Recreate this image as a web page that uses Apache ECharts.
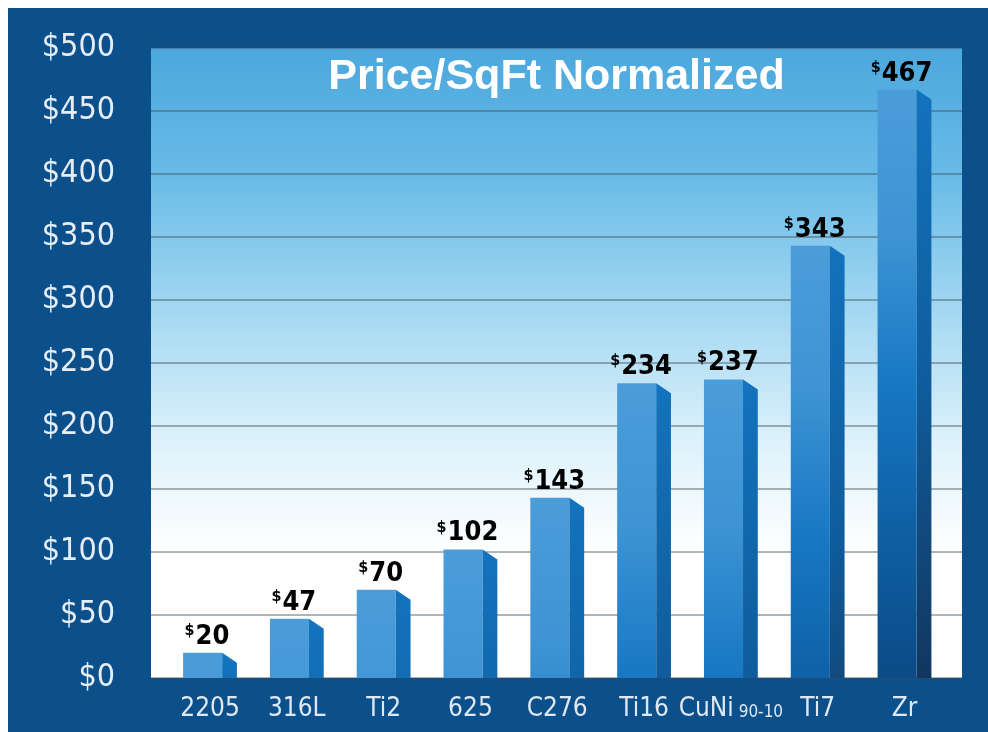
<!DOCTYPE html>
<html>
<head>
<meta charset="utf-8">
<script src="https://cdn.jsdelivr.net/npm/echarts@6/dist/echarts.min.js"></script>
<style>
  html, body { margin: 0; padding: 0; background: #fff; }
  #wrap { position: relative; width: 988px; height: 732px; background: #fff; }
  #chart { position: absolute; left: 8px; top: 8px; width: 980px; height: 724px; }
</style>
</head>
<body>
<div id="wrap"><div id="chart"></div></div>
<script>
// data
const categories = ['2205', '316L', 'Ti2', '625', 'C276', 'Ti16', 'CuNi 90-10', 'Ti7', 'Zr'];
const prices = [20, 47, 70, 102, 143, 234, 237, 343, 467];
const yTicks = [0, 50, 100, 150, 200, 250, 300, 350, 400, 450, 500];

const narrow = "'DejaVu Sans Condensed', 'Liberation Sans Narrow', sans-serif";

const chart = echarts.init(document.getElementById('chart'));

// colours change with distance from the bar top
const frontStops = [
  { offset: 0, color: '#4b9dd9' },
  { offset: 0.25, color: '#3d93d4' },
  { offset: 0.5, color: '#1777c3' },
  { offset: 0.75, color: '#0e5fa3' },
  { offset: 1, color: '#0b4a86' }
];
const sideStops = [
  { offset: 0, color: '#1373bd' },
  { offset: 0.5, color: '#0f5c9c' },
  { offset: 1, color: '#12365e' }
];

function renderBar(params, api) {
  const top = api.coord([api.value(0), api.value(1)]);
  const base = api.coord([api.value(0), 0]);
  const band = api.size([1, 0])[0];
  const fw = band * 0.45;
  const sw = band * 0.17;
  const left = top[0] - (fw + sw) / 2;
  const fr = left + fw;
  const ty = top[1];
  const by = base[1];
  const span = by - api.coord([0, 470])[1];
  const bevel = Math.min(10, by - ty);
  const val = prices[params.dataIndex];
  return {
    type: 'group',
    children: [
      {
        type: 'rect',
        shape: { x: left, y: ty, width: fw, height: by - ty },
        style: { fill: new echarts.graphic.LinearGradient(0, ty, 0, ty + span, frontStops, true) }
      },
      {
        type: 'polygon',
        shape: { points: [[fr, ty], [fr + sw, ty + bevel], [fr + sw, by], [fr, by]] },
        style: { fill: new echarts.graphic.LinearGradient(0, ty, 0, ty + span, sideStops, true) }
      },
      {
        type: 'text',
        x: top[0] - 3,
        y: ty - 2,
        style: {
          text: '{s|$}{v|' + val + '}',
          align: 'center',
          verticalAlign: 'bottom',
          rich: {
            s: { fontFamily: narrow, fontWeight: 'bold', fontSize: 16, color: '#111', verticalAlign: 'top', lineHeight: 28, padding: [0, 1, 11, 0] },
            v: { fontFamily: narrow, fontWeight: 'bold', fontSize: 27, color: '#111', lineHeight: 28 }
          }
        }
      }
    ]
  };
}

const option = {
  backgroundColor: '#0b4f8b',
  animation: false,
  grid: [
    {
      left: 143, right: 26, top: 40, bottom: 54,
      show: true, borderWidth: 0,
      backgroundColor: new echarts.graphic.LinearGradient(0, 0, 0, 1, [
        { offset: 0, color: '#4ba7dd' },
        { offset: 0.2, color: '#68bbe7' },
        { offset: 0.42, color: '#a4d8f2' },
        { offset: 0.62, color: '#dcf1fb' },
        { offset: 0.8, color: '#ffffff' },
        { offset: 1, color: '#ffffff' }
      ])
    },
    { left: 158.6, right: 40.1, top: 40, bottom: 54 }
  ],
  graphic: [{
    type: 'text',
    x: 548.5,
    y: 69,
    style: {
      text: 'Price/SqFt Normalized',
      fill: '#ffffff',
      font: "bold 43px 'Liberation Sans', Arial, sans-serif",
      align: 'center',
      verticalAlign: 'middle'
    }
  }],
  xAxis: [
    { gridIndex: 0, type: 'category', data: categories, show: false },
    {
      gridIndex: 1, type: 'category', data: categories,
      axisLine: { show: false }, axisTick: { show: false },
      axisLabel: {
        interval: 0,
        margin: 14,
        color: '#dfe8f2',
        fontFamily: narrow,
        fontSize: 26,
        formatter: function (v) {
          const parts = v.split(' ');
          return parts.length > 1 ? '{a|' + parts[0] + '}{b| ' + parts[1] + '}' : '{a|' + v + '}';
        },
        rich: {
          a: { fontFamily: narrow, fontSize: 26, color: '#dfe8f2', verticalAlign: 'bottom', lineHeight: 30 },
          b: { fontFamily: narrow, fontSize: 17, color: '#dfe8f2', verticalAlign: 'bottom', lineHeight: 30, padding: [0, 0, 1, 0] }
        }
      }
    }
  ],
  yAxis: [
    {
      gridIndex: 0, type: 'value', min: yTicks[0], max: yTicks[yTicks.length - 1], interval: 50,
      axisLine: { show: false }, axisTick: { show: false },
      splitLine: { lineStyle: { color: 'rgba(60,72,84,0.55)', width: 1.5 } },
      axisLabel: {
        margin: 36, color: '#e6edf5', fontFamily: narrow, fontSize: 32,
        formatter: v => '$' + v
      }
    },
    {
      gridIndex: 1, type: 'value', min: yTicks[0], max: yTicks[yTicks.length - 1], interval: 50,
      show: false, splitLine: { show: false }
    }
  ],
  series: [{
    type: 'custom',
    xAxisIndex: 1,
    yAxisIndex: 1,
    renderItem: renderBar,
    encode: { x: 0, y: 1 },
    data: prices.map((v, i) => [i, v]),
    z: 5
  }]
};

chart.setOption(option);
</script>
</body>
</html>
